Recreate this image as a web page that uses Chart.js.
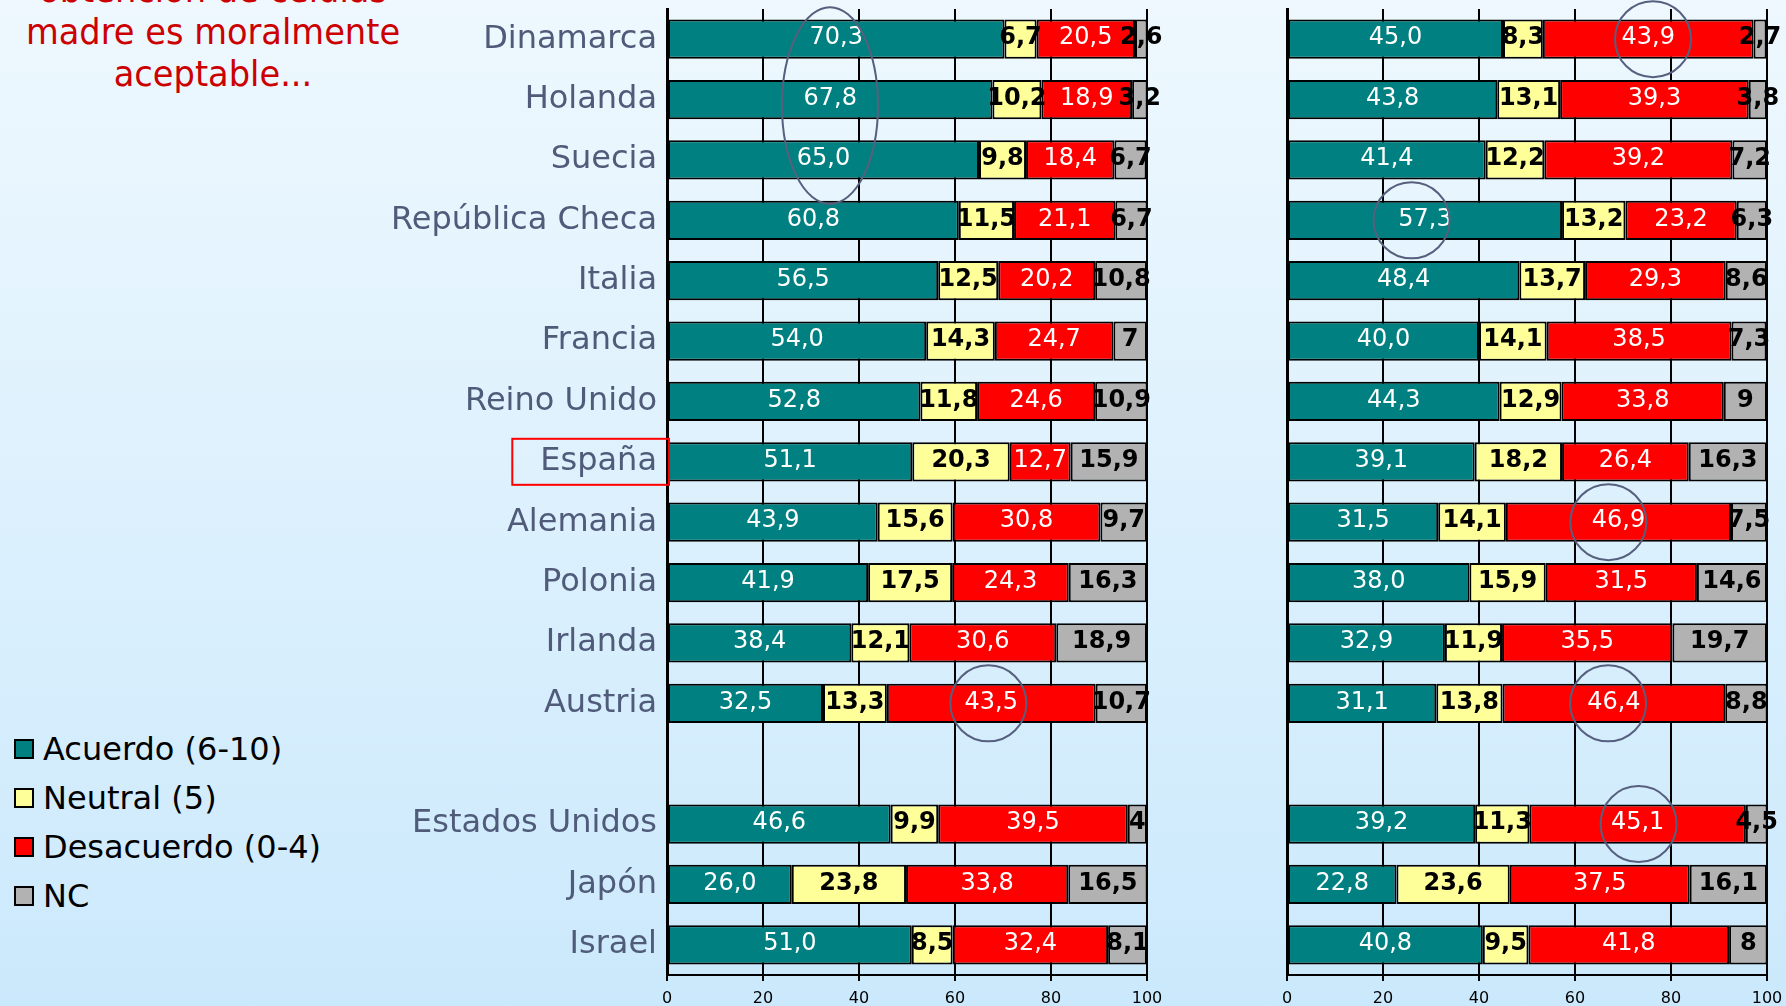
<!DOCTYPE html>
<html>
<head>
<meta charset="utf-8">
<script src="https://cdn.jsdelivr.net/npm/chart.js@4.4.1/dist/chart.umd.min.js"></script>
<style>
    body {
        margin: 0;
        width: 1786px;
        height: 1006px;
        overflow: hidden;
        position: relative;
        background: linear-gradient(to bottom, #eef8fe 0%, #cbe9fc 100%);
        font-family: 'DejaVu Sans', sans-serif;
    }
    canvas { position: absolute; top: 0; }
    #leftChart { left: 0; }
    #rightChart { left: 1270px; }
    #title {
        position: absolute;
        left: 0;
        top: -31px;
        width: 426px;
        text-align: center;
        color: #cc0000;
        font-size: 36px;
        line-height: 42px;
        transform: scaleX(0.935);
        white-space: nowrap;
    }
    #legend { position: absolute; left: 14px; top: 724px; }
    #legend .item {
        height: 49px;
        display: flex;
        align-items: center;
        font-size: 32px;
        color: #000;
    }
    #legend .box {
        width: 20px;
        height: 20px;
        box-sizing: border-box;
        border: 2px solid #000;
        margin-right: 9px;
    }
</style>
</head>
<body>
<div id="title">obtención de células<br>madre es moralmente<br>aceptable...</div>
<div id="legend"></div>
<canvas id="leftChart" width="1175" height="1006"></canvas>
<canvas id="rightChart" width="516" height="1006"></canvas>
<script>
const countries = ['Dinamarca', 'Holanda', 'Suecia', 'República Checa', 'Italia', 'Francia', 'Reino Unido',
    'España', 'Alemania', 'Polonia', 'Irlanda', 'Austria', '', 'Estados Unidos', 'Japón', 'Israel'];
const seriesNames = ['Acuerdo (6-10)', 'Neutral (5)', 'Desacuerdo (0-4)', 'NC'];
const seriesColors = ['#008080', '#ffff99', '#ff0000', '#b2b2b2'];
const xTicks = [0, 20, 40, 60, 80, 100];

const leftAcuerdo = [70.3, 67.8, 65.0, 60.8, 56.5, 54.0, 52.8, 51.1, 43.9, 41.9, 38.4, 32.5, null, 46.6, 26.0, 51.0];
const leftNeutral = [6.7, 10.2, 9.8, 11.5, 12.5, 14.3, 11.8, 20.3, 15.6, 17.5, 12.1, 13.3, null, 9.9, 23.8, 8.5];
const leftDesacuerdo = [20.5, 18.9, 18.4, 21.1, 20.2, 24.7, 24.6, 12.7, 30.8, 24.3, 30.6, 43.5, null, 39.5, 33.8, 32.4];
const leftNC = [2.6, 3.2, 6.7, 6.7, 10.8, 7, 10.9, 15.9, 9.7, 16.3, 18.9, 10.7, null, 4, 16.5, 8.1];

const rightAcuerdo = [45.0, 43.8, 41.4, 57.3, 48.4, 40.0, 44.3, 39.1, 31.5, 38.0, 32.9, 31.1, null, 39.2, 22.8, 40.8];
const rightNeutral = [8.3, 13.1, 12.2, 13.2, 13.7, 14.1, 12.9, 18.2, 14.1, 15.9, 11.9, 13.8, null, 11.3, 23.6, 9.5];
const rightDesacuerdo = [43.9, 39.3, 39.2, 23.2, 29.3, 38.5, 33.8, 26.4, 46.9, 31.5, 35.5, 46.4, null, 45.1, 37.5, 41.8];
const rightNC = [2.7, 3.8, 7.2, 6.3, 8.6, 7.3, 9, 16.3, 7.5, 14.6, 19.7, 8.8, null, 4.5, 16.1, 8];

// circled cells as [row, serie, shift in % units]
const leftCircled = [[11, 2, -0.6]];
const leftGroup = [[0, 0], [1, 0], [2, 0]];
const rightCircled = [[0, 2, 1], [3, 0, -2.8], [8, 2, -2.1], [11, 2, -1.2], [13, 2, 0.2]];
const highlighted = 'España';

Chart.defaults.font.family = "'DejaVu Sans', sans-serif";

// legend
const legendEl = document.getElementById('legend');
seriesNames.forEach(function (name, i) {
    const row = document.createElement('div');
    row.className = 'item';
    row.innerHTML = '<span class="box" style="background:' + seriesColors[i] + '"></span>' + name;
    legendEl.appendChild(row);
});

function fmt(v, serie) {
    // NC column shows integers without decimals
    const s = serie === 3 ? String(v) : v.toFixed(1);
    return s.replace('.', ',');
}

function cellCenter(chart, row, serie) {
    const p = chart.getDatasetMeta(serie).data[row].getProps(['x', 'base', 'y'], true);
    return { x: (p.x + p.base) / 2, y: p.y };
}

const valueLabels = {
    id: 'valueLabels',
    afterDatasetsDraw(chart) {
        const ctx = chart.ctx;
        ctx.save();
        ctx.textAlign = 'center';
        ctx.textBaseline = 'middle';
        chart.data.datasets.forEach(function (ds, i) {
            const light = i === 0 || i === 2;
            ctx.fillStyle = light ? '#fff' : '#000';
            ctx.font = (light ? '' : 'bold ') + "24px 'DejaVu Sans'";
            chart.getDatasetMeta(i).data.forEach(function (bar, j) {
                const v = ds.data[j];
                if (v === null || v === undefined) return;
                const c = cellCenter(chart, j, i);
                ctx.fillText(fmt(v, i), c.x, c.y - 1);
            });
        });
        ctx.restore();
    }
};

const marks = {
    id: 'marks',
    afterDraw(chart, args, opts) {
        const ctx = chart.ctx;
        const xs = chart.scales.x;
        const unit = xs.getPixelForValue(1) - xs.getPixelForValue(0);
        ctx.save();
        ctx.strokeStyle = '#56607e';
        ctx.lineWidth = 2;
        (opts.circled || []).forEach(function (cell) {
            const c = cellCenter(chart, cell[0], cell[1]);
            ctx.beginPath();
            ctx.arc(c.x + (cell[2] || 0) * unit, c.y, 38, 0, Math.PI * 2);
            ctx.stroke();
        });
        if (opts.group && opts.group.length) {
            const pts = opts.group.map(function (cell) { return cellCenter(chart, cell[0], cell[1]); });
            const cx = pts.reduce(function (a, p) { return a + p.x; }, 0) / pts.length;
            const top = Math.min.apply(null, pts.map(function (p) { return p.y; }));
            const bottom = Math.max.apply(null, pts.map(function (p) { return p.y; }));
            ctx.beginPath();
            ctx.ellipse(cx, (top + bottom) / 2 + 6, 48, (bottom - top) / 2 + 38, 0, 0, Math.PI * 2);
            ctx.stroke();
        }
        if (opts.highlight) {
            const yScale = chart.scales.y;
            const idx = countries.indexOf(opts.highlight);
            const y = yScale.getPixelForValue(idx);
            ctx.font = "32px 'DejaVu Sans'";
            const w = ctx.measureText(opts.highlight).width;
            const right = chart.chartArea.left + 2;
            const left = chart.chartArea.left - 10 - w - 28;
            ctx.strokeStyle = '#ff0000';
            ctx.strokeRect(left, y - 23, right - left, 46);
        }
        ctx.restore();
    }
};

function makeChart(id, series, showLabels, yWidth, padRight, markOpts) {
    return new Chart(document.getElementById(id), {
        type: 'bar',
        data: {
            labels: countries,
            datasets: series.map(function (d, i) {
                return {
                    label: seriesNames[i],
                    data: d,
                    backgroundColor: seriesColors[i],
                    borderColor: '#000',
                    borderWidth: 2,
                    borderSkipped: false,
                    barPercentage: 0.65,
                    categoryPercentage: 1
                };
            })
        },
        options: {
            indexAxis: 'y',
            responsive: false,
            animation: false,
            devicePixelRatio: 1,
            layout: { padding: { top: 9, right: padRight, left: 0, bottom: 0 } },
            plugins: {
                legend: { display: false },
                tooltip: { enabled: false },
                marks: markOpts
            },
            scales: {
                x: {
                    stacked: true,
                    min: 0,
                    max: 100,
                    afterBuildTicks: function (scale) {
                        scale.ticks = xTicks.map(function (v) { return { value: v }; });
                    },
                    ticks: {
                        color: '#000',
                        font: { size: 16 },
                        padding: 8,
                        maxRotation: 0,
                        autoSkip: false
                    },
                    grid: { color: '#000', lineWidth: 2, tickLength: 6 },
                    border: { display: true, color: '#000', width: 2 },
                    afterFit: function (s) {
                        s.height = 31;
                        s.paddingLeft = 0;
                        s.paddingRight = 0;
                    }
                },
                y: {
                    stacked: true,
                    ticks: {
                        display: showLabels,
                        autoSkip: false,
                        color: '#505b7a',
                        font: { size: 32 },
                        padding: 10
                    },
                    grid: { display: false, drawTicks: false },
                    border: { display: true, color: '#000', width: 3 },
                    afterFit: function (s) {
                        s.width = yWidth;
                        s.paddingTop = 0;
                        s.paddingBottom = 0;
                    }
                }
            }
        },
        plugins: [valueLabels, marks]
    });
}

makeChart('leftChart', [leftAcuerdo, leftNeutral, leftDesacuerdo, leftNC], true, 667, 28,
    { circled: leftCircled, group: leftGroup, highlight: highlighted });
makeChart('rightChart', [rightAcuerdo, rightNeutral, rightDesacuerdo, rightNC], false, 17, 19,
    { circled: rightCircled });
</script>
</body>
</html>
